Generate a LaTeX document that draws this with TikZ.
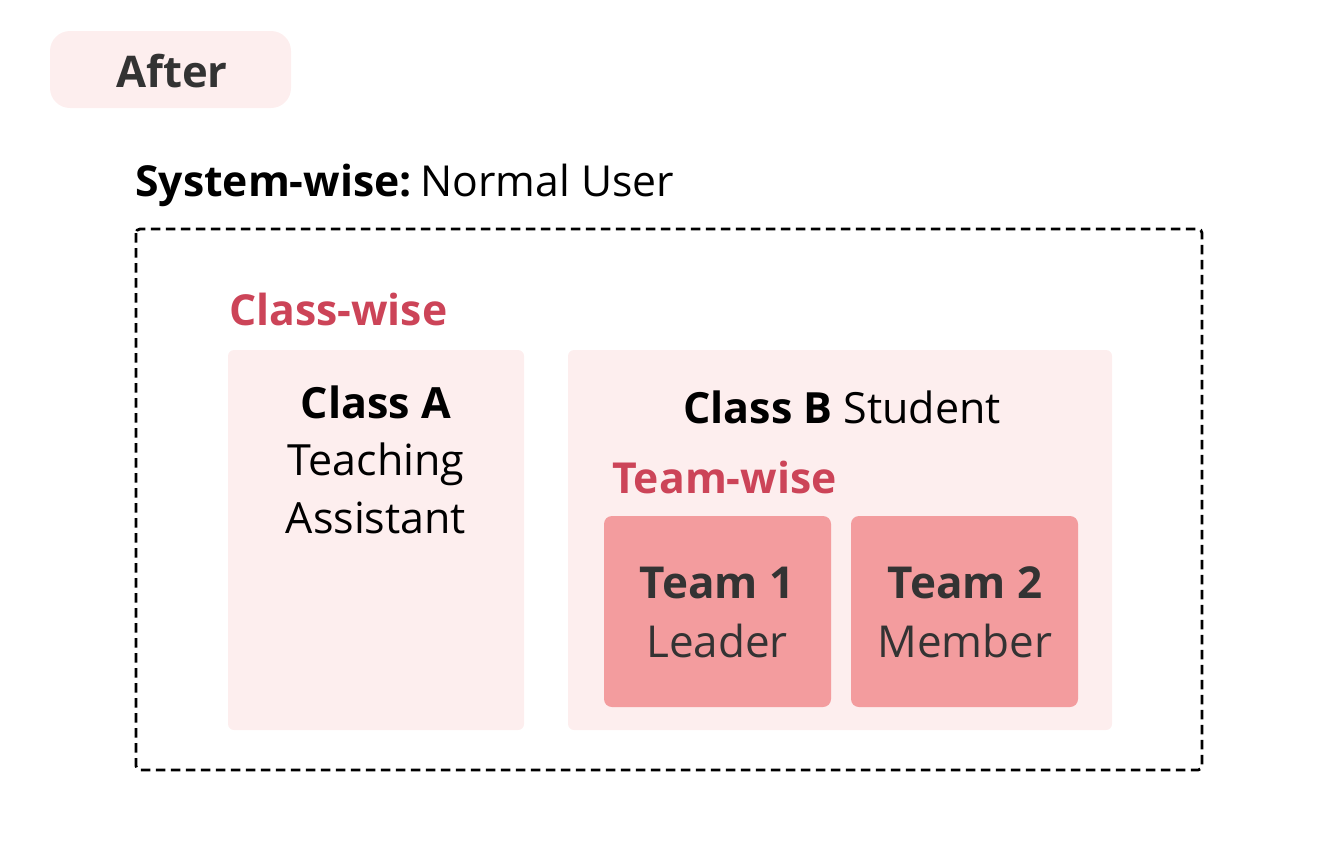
\documentclass[tikz,border=0pt]{standalone}
\usepackage{fontspec}
\setmainfont{Open Sans}
\definecolor{paleRose}{HTML}{FDEEEE}
\definecolor{teamRose}{HTML}{F39C9E}
\definecolor{scopeRed}{HTML}{CC4458}
\definecolor{darkText}{HTML}{333333}
\tikzset{
  panel/.style={fill=paleRose, draw=none, rounded corners=6pt},
  teambox/.style={fill=teamRose, draw=none, rounded corners=8pt},
  scopelabel/.style={text=scopeRed, font=\fontsize{42.7}{50}\selectfont\bfseries, anchor=base west, inner sep=0pt},
  bodytext/.style={font=\fontsize{43}{58}\selectfont, anchor=base, inner sep=0pt},
  teamtext/.style={font=\fontsize{44}{58}\selectfont, text=darkText, anchor=base, inner sep=0pt},
}
\begin{document}
\begin{tikzpicture}[x=1pt,y=-1pt]
\useasboundingbox (0,0) rectangle (1320,854);

% header tag
\fill[paleRose, rounded corners=20pt] (50,31) rectangle (291,108);
\node[font=\fontsize{43.6}{50}\selectfont\bfseries, text=darkText, anchor=base, inner sep=0pt] (after) at (172,87) {After};

% system-wise caption
\node[font=\fontsize{42.7}{50}\selectfont, anchor=base west, inner sep=0pt] (sys) at (135,196) {\textbf{System-wise:}\hspace{0.2em}Normal User};

% dashed frame
\draw[line width=2.8pt, dash pattern=on 9.5pt off 5.5pt, rounded corners=4pt] (136,229) rectangle (1202,770);

% class scope
\node[scopelabel] (classwise) at (229,325) {Class-wise};
\fill[panel] (228,350) rectangle (524,730);
\fill[panel] (568,350) rectangle (1112,730);
\node[bodytext] (classA) at (376,418) {\textbf{Class A}};
\node[bodytext] (teach) at (376,475) {Teaching};
\node[bodytext] (assist) at (376,533) {Assistant};
\node[bodytext] (classB) at (842,423) {\textbf{Class B} Student};

% team scope
\node[scopelabel] (teamwise) at (612,493) {Team-wise};
\fill[teambox] (604,516) rectangle (831,707);
\fill[teambox] (851,516) rectangle (1078,707);
\node[teamtext] (t1) at (717,598) {\textbf{Team 1}};
\node[teamtext] (lead) at (717,657) {Leader};
\node[teamtext] (t2) at (965,598) {\textbf{Team 2}};
\node[teamtext] (memb) at (965,657) {Member};
\end{tikzpicture}
\end{document}
